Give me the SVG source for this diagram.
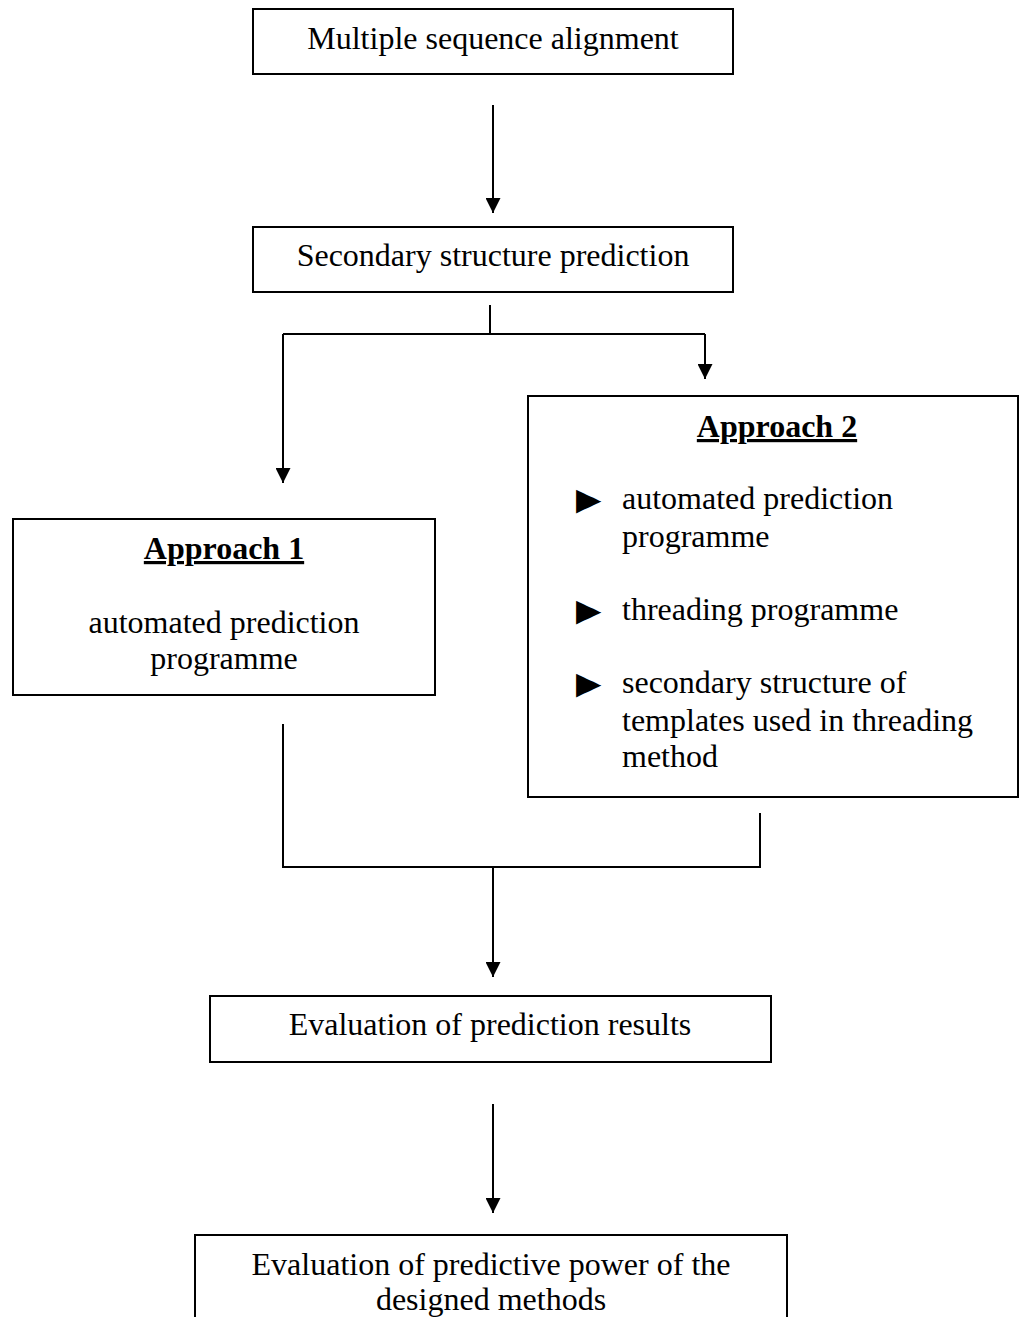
<svg xmlns="http://www.w3.org/2000/svg" width="1020" height="1317" viewBox="0 0 1020 1317">
<style>
.box{fill:#fff;stroke:#000;stroke-width:2}
.t{font-family:"Liberation Serif","Times New Roman",serif;font-size:32px;fill:#000}
.c{text-anchor:middle}
.h{font-weight:bold;text-decoration:underline}
.bul{font-family:"DejaVu Sans",sans-serif;font-size:33px;fill:#000}
.ln{fill:none;stroke:#000;stroke-width:2}
</style>
<defs>
<marker id="ah" markerUnits="userSpaceOnUse" markerWidth="15" markerHeight="15" viewBox="0 0 15 15" refX="15" refY="7.5" orient="auto">
<path d="M0,0 L15,7.5 L0,15 Z" fill="#000"/>
</marker>
</defs>
<rect width="1020" height="1317" fill="#fff"/>
<g id="connectors">
<path class="ln" d="M493,105 V213" marker-end="url(#ah)"/>
<path class="ln" d="M490,305 V334"/>
<path class="ln" d="M283,334 H705"/>
<path class="ln" d="M283,334 V483" marker-end="url(#ah)"/>
<path class="ln" d="M705,334 V379" marker-end="url(#ah)"/>
<path class="ln" d="M283,724 V867 H760 V813"/>
<path class="ln" d="M493,867 V977" marker-end="url(#ah)"/>
<path class="ln" d="M493,1104 V1213" marker-end="url(#ah)"/>
</g>
<g id="msa">
<rect class="box" x="253" y="9" width="480" height="65"/>
<text class="t c" x="493" y="49">Multiple sequence alignment</text>
</g>
<g id="ssp">
<rect class="box" x="253" y="227" width="480" height="65"/>
<text class="t c" x="493" y="266">Secondary structure prediction</text>
</g>
<g id="approach1">
<rect class="box" x="13" y="519" width="422" height="176"/>
<text class="t c h" x="224" y="559">Approach 1</text>
<text class="t c" x="224" y="633">automated prediction</text>
<text class="t c" x="224" y="669">programme</text>
</g>
<g id="approach2">
<rect class="box" x="528" y="396" width="490" height="401"/>
<text class="t c h" x="777" y="437">Approach 2</text>
<text class="bul" transform="translate(576,514) scale(1,1.45)">►</text>
<text class="t" x="622" y="509">automated prediction</text>
<text class="t" x="622" y="547">programme</text>
<text class="bul" transform="translate(576,625) scale(1,1.45)">►</text>
<text class="t" x="622" y="620">threading programme</text>
<text class="bul" transform="translate(576,698) scale(1,1.45)">►</text>
<text class="t" x="622" y="693">secondary structure of</text>
<text class="t" x="622" y="731">templates used in threading</text>
<text class="t" x="622" y="767">method</text>
</g>
<g id="eval1">
<rect class="box" x="210" y="996" width="561" height="66"/>
<text class="t c" x="490" y="1035">Evaluation of prediction results</text>
</g>
<g id="eval2">
<rect class="box" x="195" y="1235" width="592" height="100"/>
<text class="t c" x="491" y="1275">Evaluation of predictive power of the</text>
<text class="t c" x="491" y="1310">designed methods</text>
</g>
</svg>
